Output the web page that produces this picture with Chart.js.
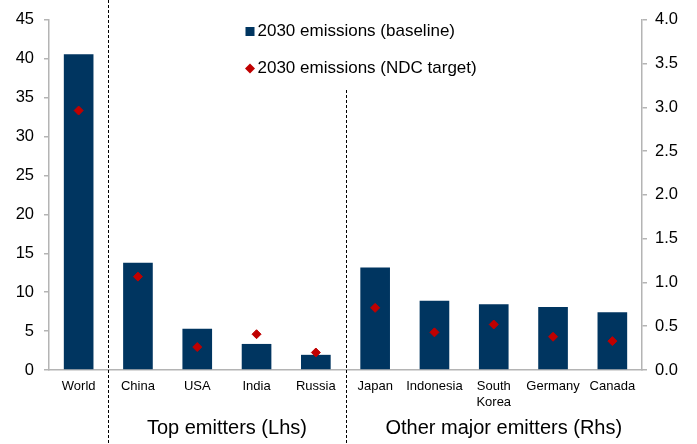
<!DOCTYPE html>
<html>
<head>
<meta charset="utf-8">
<script src="https://cdn.jsdelivr.net/npm/chart.js@4"></script>
<style>
  html, body { margin: 0; padding: 0; background: #ffffff; }
  canvas { display: block; }
</style>
</head>
<body>
<canvas id="chart" width="697" height="444"></canvas>
<script>
// Countries shown along the x axis
const categories = ['World', 'China', 'USA', 'India', 'Russia',
  'Japan', 'Indonesia', ['South', 'Korea'], 'Germany', 'Canada'];

// Top emitters, plotted against the left axis (GtCO2e)
const baselineTop = [40.6, 13.8, 5.3, 3.35, 1.95];
const ndcTop = [33.35, 12.0, 2.95, 4.6, 2.25];

// Other major emitters, plotted against the right axis (GtCO2e)
const baselineOther = [1.17, 0.79, 0.75, 0.72, 0.66];
const ndcOther = [0.71, 0.43, 0.52, 0.38, 0.33];

const seriesNames = ['2030 emissions (baseline)', '2030 emissions (NDC target)'];
const groupNames = ['Top emitters (Lhs)', 'Other major emitters (Rhs)'];

const BAR = '#003560';
const DOT = '#c00000';
const AXIS = '#b4b4b4';
const FONT = "'Liberation Sans', Arial, Helvetica, sans-serif";

const pad = n => new Array(n).fill(null);
const leftBars = baselineTop.concat(pad(baselineOther.length));
const rightBars = pad(baselineTop.length).concat(baselineOther);
const leftDots = ndcTop.concat(pad(ndcOther.length));
const rightDots = pad(ndcTop.length).concat(ndcOther);

// Dashed separators, group captions and the in-plot legend
const overlay = {
  id: 'overlay',
  afterDraw(chart) {
    const ctx = chart.ctx;
    const x = chart.scales.x;
    const H = chart.height;
    const sep1 = (x.getPixelForValue(0) + x.getPixelForValue(1)) / 2;
    const sep2 = (x.getPixelForValue(4) + x.getPixelForValue(5)) / 2;

    ctx.save();
    ctx.strokeStyle = '#000';
    ctx.lineWidth = 1;
    ctx.setLineDash([3, 2]);
    ctx.beginPath();
    ctx.moveTo(Math.round(sep1) + 0.5, 0);
    ctx.lineTo(Math.round(sep1) + 0.5, H);
    ctx.moveTo(Math.round(sep2) + 0.5, 90);
    ctx.lineTo(Math.round(sep2) + 0.5, H);
    ctx.stroke();
    ctx.setLineDash([]);

    ctx.fillStyle = '#000';
    ctx.font = '20px ' + FONT;
    ctx.textAlign = 'center';
    ctx.textBaseline = 'middle';
    ctx.fillText(groupNames[0], (sep1 + sep2) / 2, 428);
    ctx.fillText(groupNames[1], (sep2 + chart.width - 35) / 2, 428);

    // legend
    const lx = 245.5;
    ctx.fillStyle = BAR;
    ctx.fillRect(lx, 27, 9, 9);
    ctx.fillStyle = DOT;
    ctx.beginPath();
    const cx = lx + 4.5, cy = 68.5, r = 5;
    ctx.moveTo(cx - r, cy);
    ctx.lineTo(cx, cy - r);
    ctx.lineTo(cx + r, cy);
    ctx.lineTo(cx, cy + r);
    ctx.closePath();
    ctx.fill();

    ctx.fillStyle = '#000';
    ctx.font = '17px ' + FONT;
    ctx.textAlign = 'left';
    ctx.fillText(seriesNames[0], 257.5, 31.5);
    ctx.fillText(seriesNames[1], 257.5, 68.5);
    ctx.restore();
  }
};

const barCommon = {
  type: 'bar',
  backgroundColor: BAR,
  borderWidth: 0,
  grouped: false,
  barPercentage: 0.5,
  categoryPercentage: 1,
  order: 2
};
const dotCommon = {
  type: 'line',
  showLine: false,
  pointStyle: 'rectRot',
  pointRadius: 4.5,
  pointHoverRadius: 4.5,
  pointBackgroundColor: DOT,
  pointBorderColor: DOT,
  pointBorderWidth: 1,
  order: 1
};

new Chart(document.getElementById('chart'), {
  data: {
    labels: categories,
    datasets: [
      Object.assign({}, barCommon, { label: seriesNames[0], data: leftBars, yAxisID: 'y' }),
      Object.assign({}, barCommon, { label: seriesNames[0], data: rightBars, yAxisID: 'y1' }),
      Object.assign({}, dotCommon, { label: seriesNames[1], data: leftDots, yAxisID: 'y' }),
      Object.assign({}, dotCommon, { label: seriesNames[1], data: rightDots, yAxisID: 'y1' })
    ]
  },
  options: {
    responsive: false,
    animation: false,
    events: [],
    layout: { padding: { top: 12, left: 0, right: 0, bottom: 0 } },
    plugins: {
      legend: { display: false },
      tooltip: { enabled: false }
    },
    scales: {
      x: {
        offset: true,
        grid: { display: false, drawTicks: false },
        border: { display: true, color: AXIS, width: 1.5 },
        ticks: {
          color: '#000',
          font: { family: FONT, size: 13 },
          padding: 9,
          maxRotation: 0,
          autoSkip: false
        },
        afterFit(s) { s.height = 74; }
      },
      y: {
        position: 'left',
        min: 0,
        max: 45,
        grid: { drawOnChartArea: false, drawTicks: true, tickLength: 5, color: AXIS, lineWidth: 1.5 },
        border: { display: true, color: AXIS, width: 1.5 },
        ticks: {
          stepSize: 5,
          color: '#000',
          font: { family: FONT, size: 16.5 },
          padding: 10
        },
        afterFit(s) { s.width = 49; }
      },
      y1: {
        position: 'right',
        min: 0,
        max: 4,
        grid: { drawOnChartArea: false, drawTicks: true, tickLength: 5, color: AXIS, lineWidth: 1.5 },
        border: { display: true, color: AXIS, width: 1.5 },
        ticks: {
          stepSize: 0.5,
          color: '#000',
          font: { family: FONT, size: 16.5 },
          padding: 8,
          callback: v => Number(v).toFixed(1)
        },
        afterFit(s) { s.width = 55; }
      }
    }
  },
  plugins: [overlay]
});
</script>
</body>
</html>
